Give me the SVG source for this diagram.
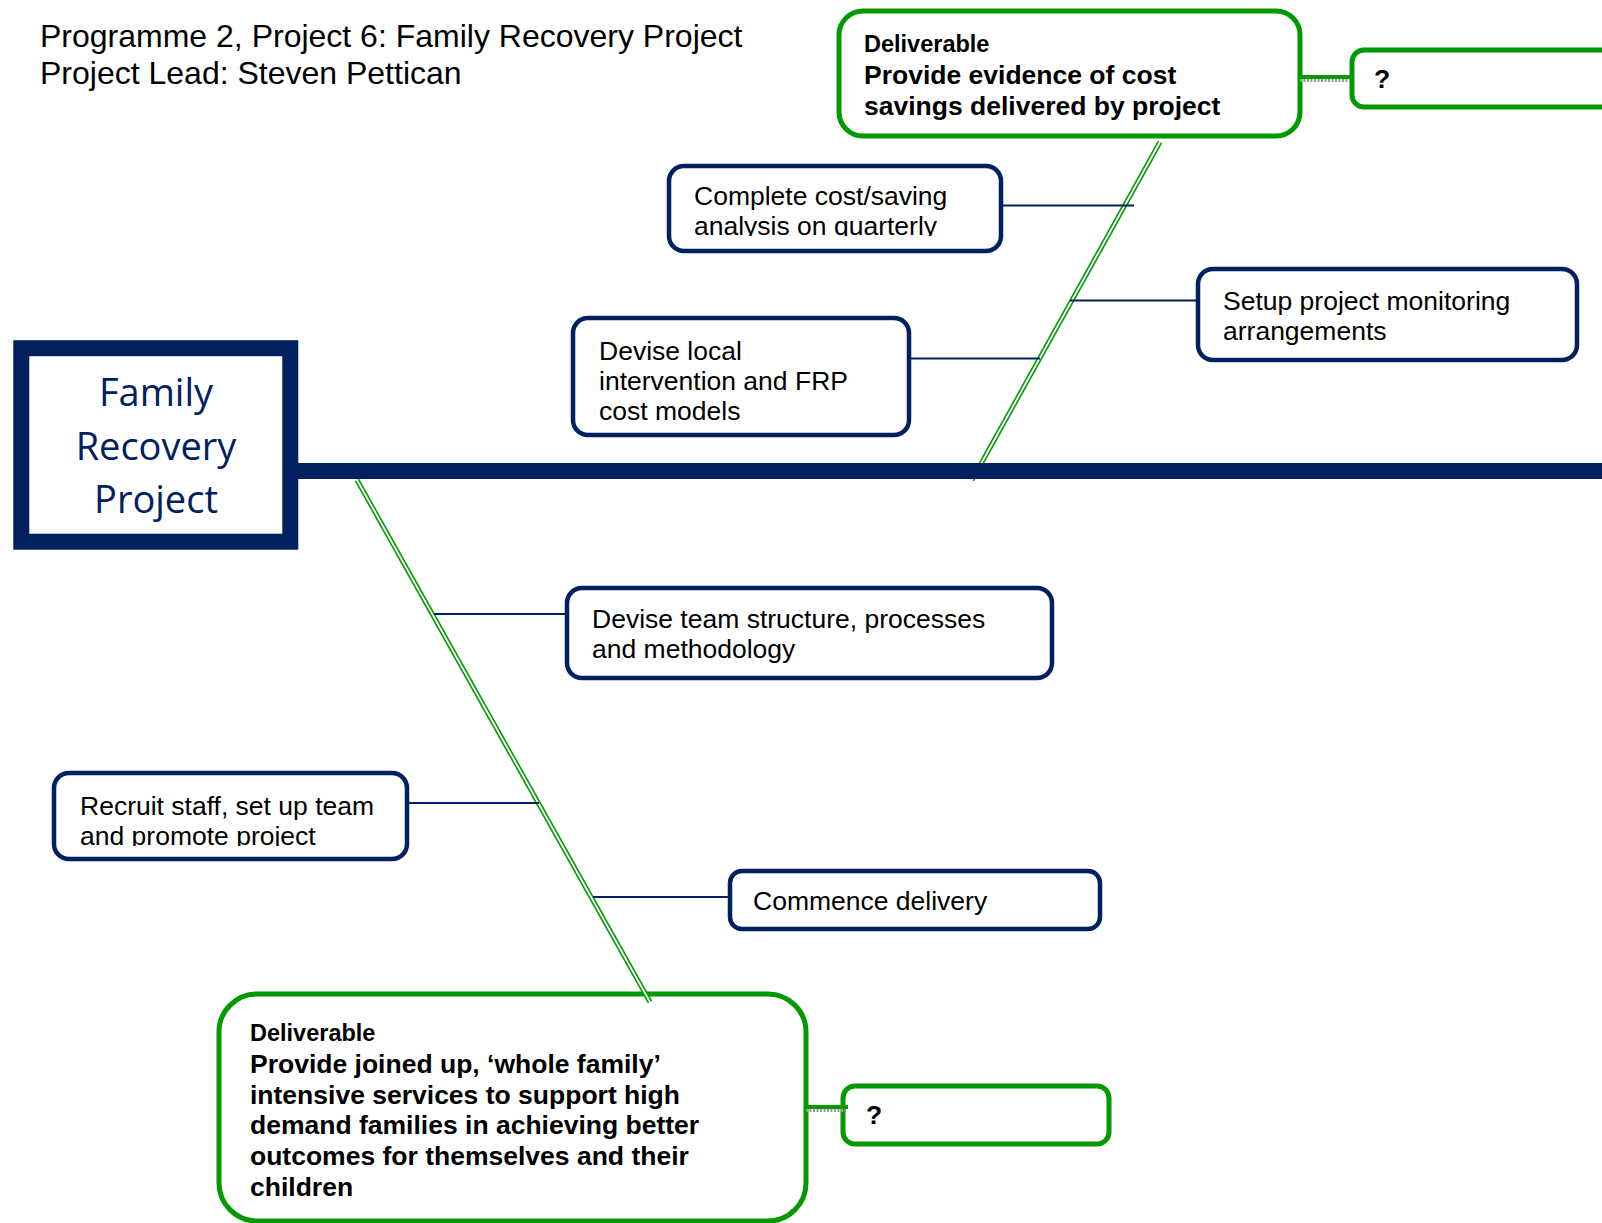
<svg xmlns="http://www.w3.org/2000/svg" width="1602" height="1223" viewBox="0 0 1602 1223">
<style>
.t{font-family:"Liberation Sans",Arial,sans-serif;font-size:26.5px;fill:#000}
.b{font-weight:bold}
.ti{font-size:32px}
.d{font-family:"Liberation Sans",Arial,sans-serif;font-weight:bold;font-size:23.5px;fill:#000}
.nb{fill:#fff;stroke:#002060;stroke-width:4.5}
.gb{fill:#fff;stroke:#009900;stroke-width:5}
.br{stroke:#002060;stroke-width:2.2;fill:none}
.bo{stroke:#009900;stroke-width:5;fill:none}
.bi{stroke:#fff;stroke-width:1.8;fill:none}
.hg{stroke:#009900;stroke-width:4;fill:none}
.hx{stroke:#9a9a9a;stroke-width:3;stroke-dasharray:2 1.5;fill:none}
.head{font-family:"Open Sans","Noto Sans",sans-serif;font-size:38px;fill:#002060;text-anchor:middle}
</style>
<defs>
<clipPath id="c1"><rect x="669" y="166" width="332" height="70"/></clipPath>
<clipPath id="c2"><rect x="573" y="318" width="336" height="102.5"/></clipPath>
<clipPath id="c3"><rect x="54" y="773" width="353" height="73"/></clipPath>
</defs>

<g id="title">
<text class="t ti" x="40" y="47">Programme 2, Project 6: Family Recovery Project</text>
<text class="t ti" x="40" y="84">Project Lead: Steven Pettican</text>
</g>

<g id="head">
<rect x="21.3" y="348.2" width="269" height="193.5" fill="#fff" stroke="#002060" stroke-width="16"/>
<text class="head" x="156" y="406">Family</text>
<text class="head" x="156" y="460">Recovery</text>
<text class="head" x="156" y="513">Project</text>
</g>

<g id="deliverable-top">
<rect class="gb" x="839" y="11" width="461" height="125" rx="24"/>
<text class="d" x="864" y="52">Deliverable</text>
<text class="t b" x="864" y="84">Provide evidence of cost</text>
<text class="t b" x="864" y="115">savings delivered by project</text>
</g>

<g id="q-top">
<rect class="gb" x="1352" y="50" width="280" height="57" rx="12"/>
<text class="t b" x="1374" y="88">?</text>
</g>

<g id="complete-cost">
<rect class="nb" x="669" y="166" width="332" height="85" rx="15"/>
<g clip-path="url(#c1)">
<text class="t" x="694" y="205">Complete cost/saving</text>
<text class="t" x="694" y="235">analysis on quarterly</text>
</g>
</g>

<g id="setup-monitoring">
<rect class="nb" x="1198" y="269" width="379" height="91" rx="15"/>
<text class="t" x="1223" y="310">Setup project monitoring</text>
<text class="t" x="1223" y="340">arrangements</text>
</g>

<g id="devise-local">
<rect class="nb" x="573" y="318" width="336" height="117" rx="15"/>
<g clip-path="url(#c2)">
<text class="t" x="599" y="360">Devise local</text>
<text class="t" x="599" y="390">intervention and FRP</text>
<text class="t" x="599" y="420">cost models</text>
</g>
</g>

<g id="devise-team">
<rect class="nb" x="567" y="588" width="485" height="90" rx="15"/>
<text class="t" x="592" y="628">Devise team structure, processes</text>
<text class="t" x="592" y="658">and methodology</text>
</g>

<g id="recruit">
<rect class="nb" x="54" y="773" width="353" height="86" rx="15"/>
<g clip-path="url(#c3)">
<text class="t" x="80" y="815">Recruit staff, set up team</text>
<text class="t" x="80" y="845">and promote project</text>
</g>
</g>

<g id="commence">
<rect class="nb" x="730" y="871" width="370" height="58" rx="12"/>
<text class="t" x="753" y="910">Commence delivery</text>
</g>

<g id="deliverable-bottom">
<rect class="gb" x="219" y="994" width="587" height="227" rx="38"/>
<text class="d" x="250" y="1041">Deliverable</text>
<text class="t b" x="250" y="1073">Provide joined up, ‘whole family’</text>
<text class="t b" x="250" y="1104">intensive services to support high</text>
<text class="t b" x="250" y="1134">demand families in achieving better</text>
<text class="t b" x="250" y="1165">outcomes for themselves and their</text>
<text class="t b" x="250" y="1196">children</text>
</g>

<g id="q-bottom">
<rect class="gb" x="843" y="1086" width="266" height="58" rx="12"/>
<text class="t b" x="866" y="1124">?</text>
</g>

<g id="connectors">
<path class="bo" d="M1160,142 L972,480"/>
<path class="bi" d="M1160,142 L972,480"/>
<path class="bo" d="M357,480 L650,1002"/>
<path class="bi" d="M357,480 L650,1002"/>
<line x1="298" y1="471" x2="1602" y2="471" stroke="#002060" stroke-width="16"/>
<line class="br" x1="1001" y1="205.5" x2="1134" y2="205.5"/>
<line class="br" x1="1070" y1="300.5" x2="1198" y2="300.5"/>
<line class="br" x1="909" y1="358.5" x2="1040" y2="358.5"/>
<line class="br" x1="434" y1="614" x2="567" y2="614"/>
<line class="br" x1="407" y1="803" x2="539" y2="803"/>
<line class="br" x1="593" y1="897" x2="730" y2="897"/>
<line class="hg" x1="1300" y1="77" x2="1352" y2="77"/>
<line class="hx" x1="1300" y1="80.5" x2="1350" y2="80.5"/>
<line class="hg" x1="806" y1="1107" x2="848" y2="1107"/>
<line class="hx" x1="806" y1="1110.5" x2="846" y2="1110.5"/>
</g>
</svg>
